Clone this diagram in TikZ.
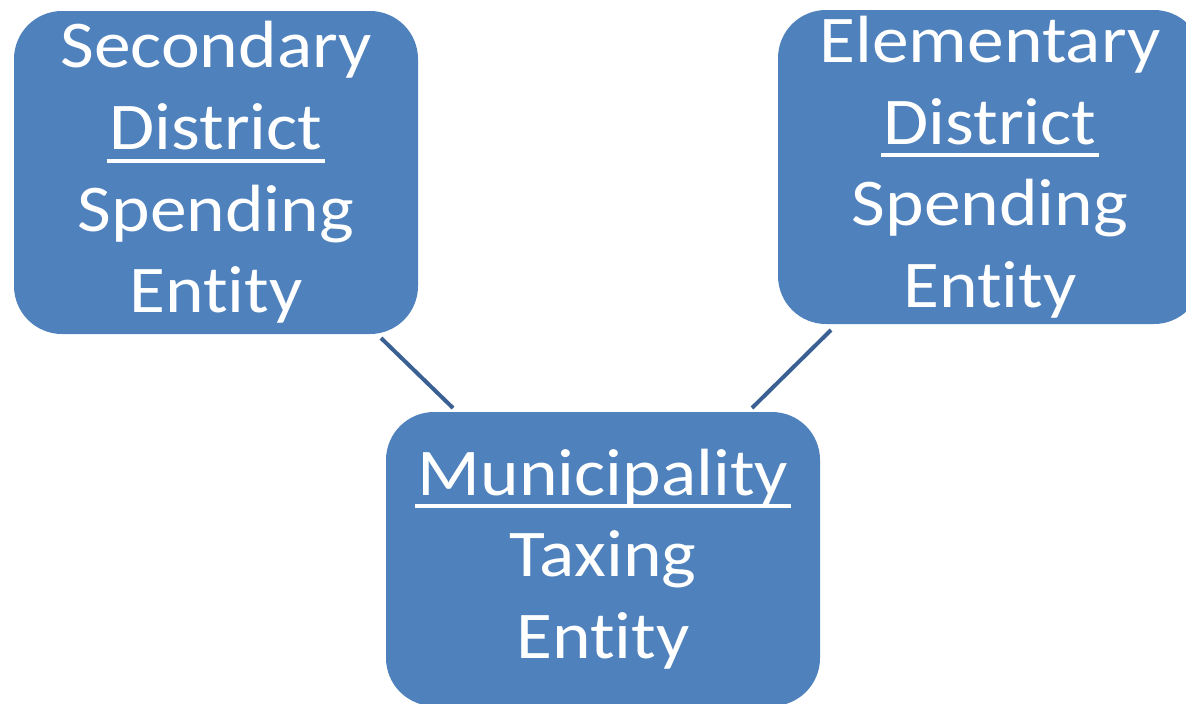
\documentclass[tikz,border=0pt]{standalone}
\usepackage{fontspec}
\setmainfont{Carlito}[FakeStretch=1.1,Ligatures=NoCommon]
\usepackage{tikz}
\definecolor{boxblue}{HTML}{4F81BD}
\definecolor{linkblue}{HTML}{3A6094}
\newsavebox\wordbox
\newcommand{\uword}[1]{\sbox\wordbox{#1}%
  \rlap{\kern-1.5pt\rule[-6.5pt]{\dimexpr\wd\wordbox+3pt\relax}{2pt}}\usebox\wordbox}
\tikzstyle{every node}=[fill=boxblue,text=white,rounded corners=24pt,
  align=center,inner sep=0pt,outer sep=0pt,
  font=\fontsize{33.4}{40.8}\selectfont]
\tikzstyle{link}=[draw=linkblue,line width=2pt]
\begin{document}
\begin{tikzpicture}[x=0.5pt,y=-0.5pt]
  \useasboundingbox (0,0) rectangle (1186,703);
  \node[minimum width=202pt,minimum height=161.5pt] (sec) at (216,172.5)
    {Secondary\\\uword{District}\\Spending\\Entity};
  \node[minimum width=212pt,minimum height=157pt] (ele) at (990,167)
    {Elementary\\\uword{District}\\Spending\\Entity};
  \node[minimum width=217pt,minimum height=147pt] (mun) at (603,559)
    {\uword{Municipality}\\Taxing\\Entity};
  \draw[link] ([xshift=-18.5pt,yshift=-2pt]sec.south east)
    -- ([xshift=33.5pt,yshift=2pt]mun.north west);
  \draw[link] ([xshift=26.5pt,yshift=-3pt]ele.south west)
    -- ([xshift=-34pt,yshift=2pt]mun.north east);
\end{tikzpicture}
\end{document}
